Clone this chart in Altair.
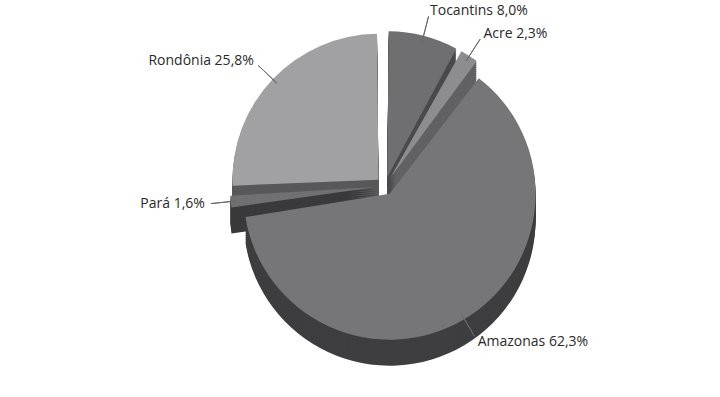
import altair as alt
import pandas as pd

# Data
estados = ["Tocantins", "Acre", "Amazonas", "Pará", "Rondônia"]
percentuais = [8.0, 2.3, 62.3, 1.6, 25.8]
rotulos = ["Tocantins 8,0%", "Acre 2,3%", "Amazonas 62,3%", "Pará 1,6%", "Rondônia 25,8%"]
lados_rotulo = ["right", "right", "right", "left", "left"]
cores_topo = ["#6f6f71", "#8d8d8f", "#767679", "#707072", "#a1a1a3"]
cores_lado = ["#4a4a4c", "#616163", "#3e3e40", "#3a3a3c", "#58585a"]
ordem = [0, 1, 2, 3, 4]

df = pd.DataFrame({
    "estado": estados,
    "valor": percentuais,
    "rotulo": rotulos,
    "lado": lados_rotulo,
    "topo": cores_topo,
    "sombra": cores_lado,
    "ordem": ordem,
})

CX, CY, R = 385, 186, 146
PAD = 0.02
EXPLODE = 9
FONT = "Open Sans"

theta_scale = alt.Scale(domain=[0, 100])

# mid angle of each slice and the exploded centre of each slice
base = (
    alt.Chart(df)
    .transform_window(cum="sum(valor)", sort=[alt.SortField("ordem")])
    .transform_calculate(
        mid="datum.cum - datum.valor / 2",
        ang="(datum.cum - datum.valor / 2) / 100 * 2 * PI",
    )
    .transform_calculate(
        cx=f"{CX} + {EXPLODE} * sin(datum.ang)",
        cy=f"{CY} - {EXPLODE} * cos(datum.ang)",
    )
)

theta_enc = alt.Theta("valor:Q", stack=True, scale=theta_scale)
order_enc = alt.Order("ordem:Q")
x_enc = alt.X("cx:Q", scale=None)
y_enc = alt.Y("cy:Q", scale=None)

layers = []
# extruded depth: repeated darker copies shifted downward
for d in range(26, 0, -2):
    layers.append(
        base.mark_arc(radius=R, padAngle=PAD, yOffset=d).encode(
            x=x_enc, y=y_enc,
            theta=theta_enc,
            order=order_enc,
            color=alt.Color("sombra:N", scale=None),
        )
    )

# top faces
layers.append(
    base.mark_arc(radius=R, padAngle=PAD).encode(
        x=x_enc, y=y_enc,
        theta=theta_enc,
        order=order_enc,
        color=alt.Color("topo:N", scale=None),
    )
)

# leader lines (radial, zero-width arcs at mid angle)
layers.append(
    base.mark_arc(radius=R - 6, radius2=R + 20, stroke="#6a6a6a",
                  strokeWidth=1, fill=None)
    .encode(
        x=x_enc, y=y_enc,
        theta=alt.Theta("mid:Q", scale=theta_scale),
        theta2=alt.Theta2("mid:Q"),
    )
)

for side, align in [("right", "left"), ("left", "right")]:
    layers.append(
        base.transform_filter(alt.datum.lado == side)
        .mark_text(radius=R + 26, align=align, baseline="middle",
                   font=FONT, fontSize=14, color="#2a2a2a")
        .encode(
            x=x_enc, y=y_enc,
            theta=alt.Theta("mid:Q", scale=theta_scale),
            text="rotulo:N",
        )
    )

chart = (
    alt.layer(*layers)
    .resolve_scale(theta="shared")
    .properties(width=720, height=397, padding=0, background="white",
                autosize=alt.AutoSizeParams(type="none"))
    .configure_view(stroke=None)
)

chart.save("out.html", embed_options={"renderer": "svg", "actions": False})
